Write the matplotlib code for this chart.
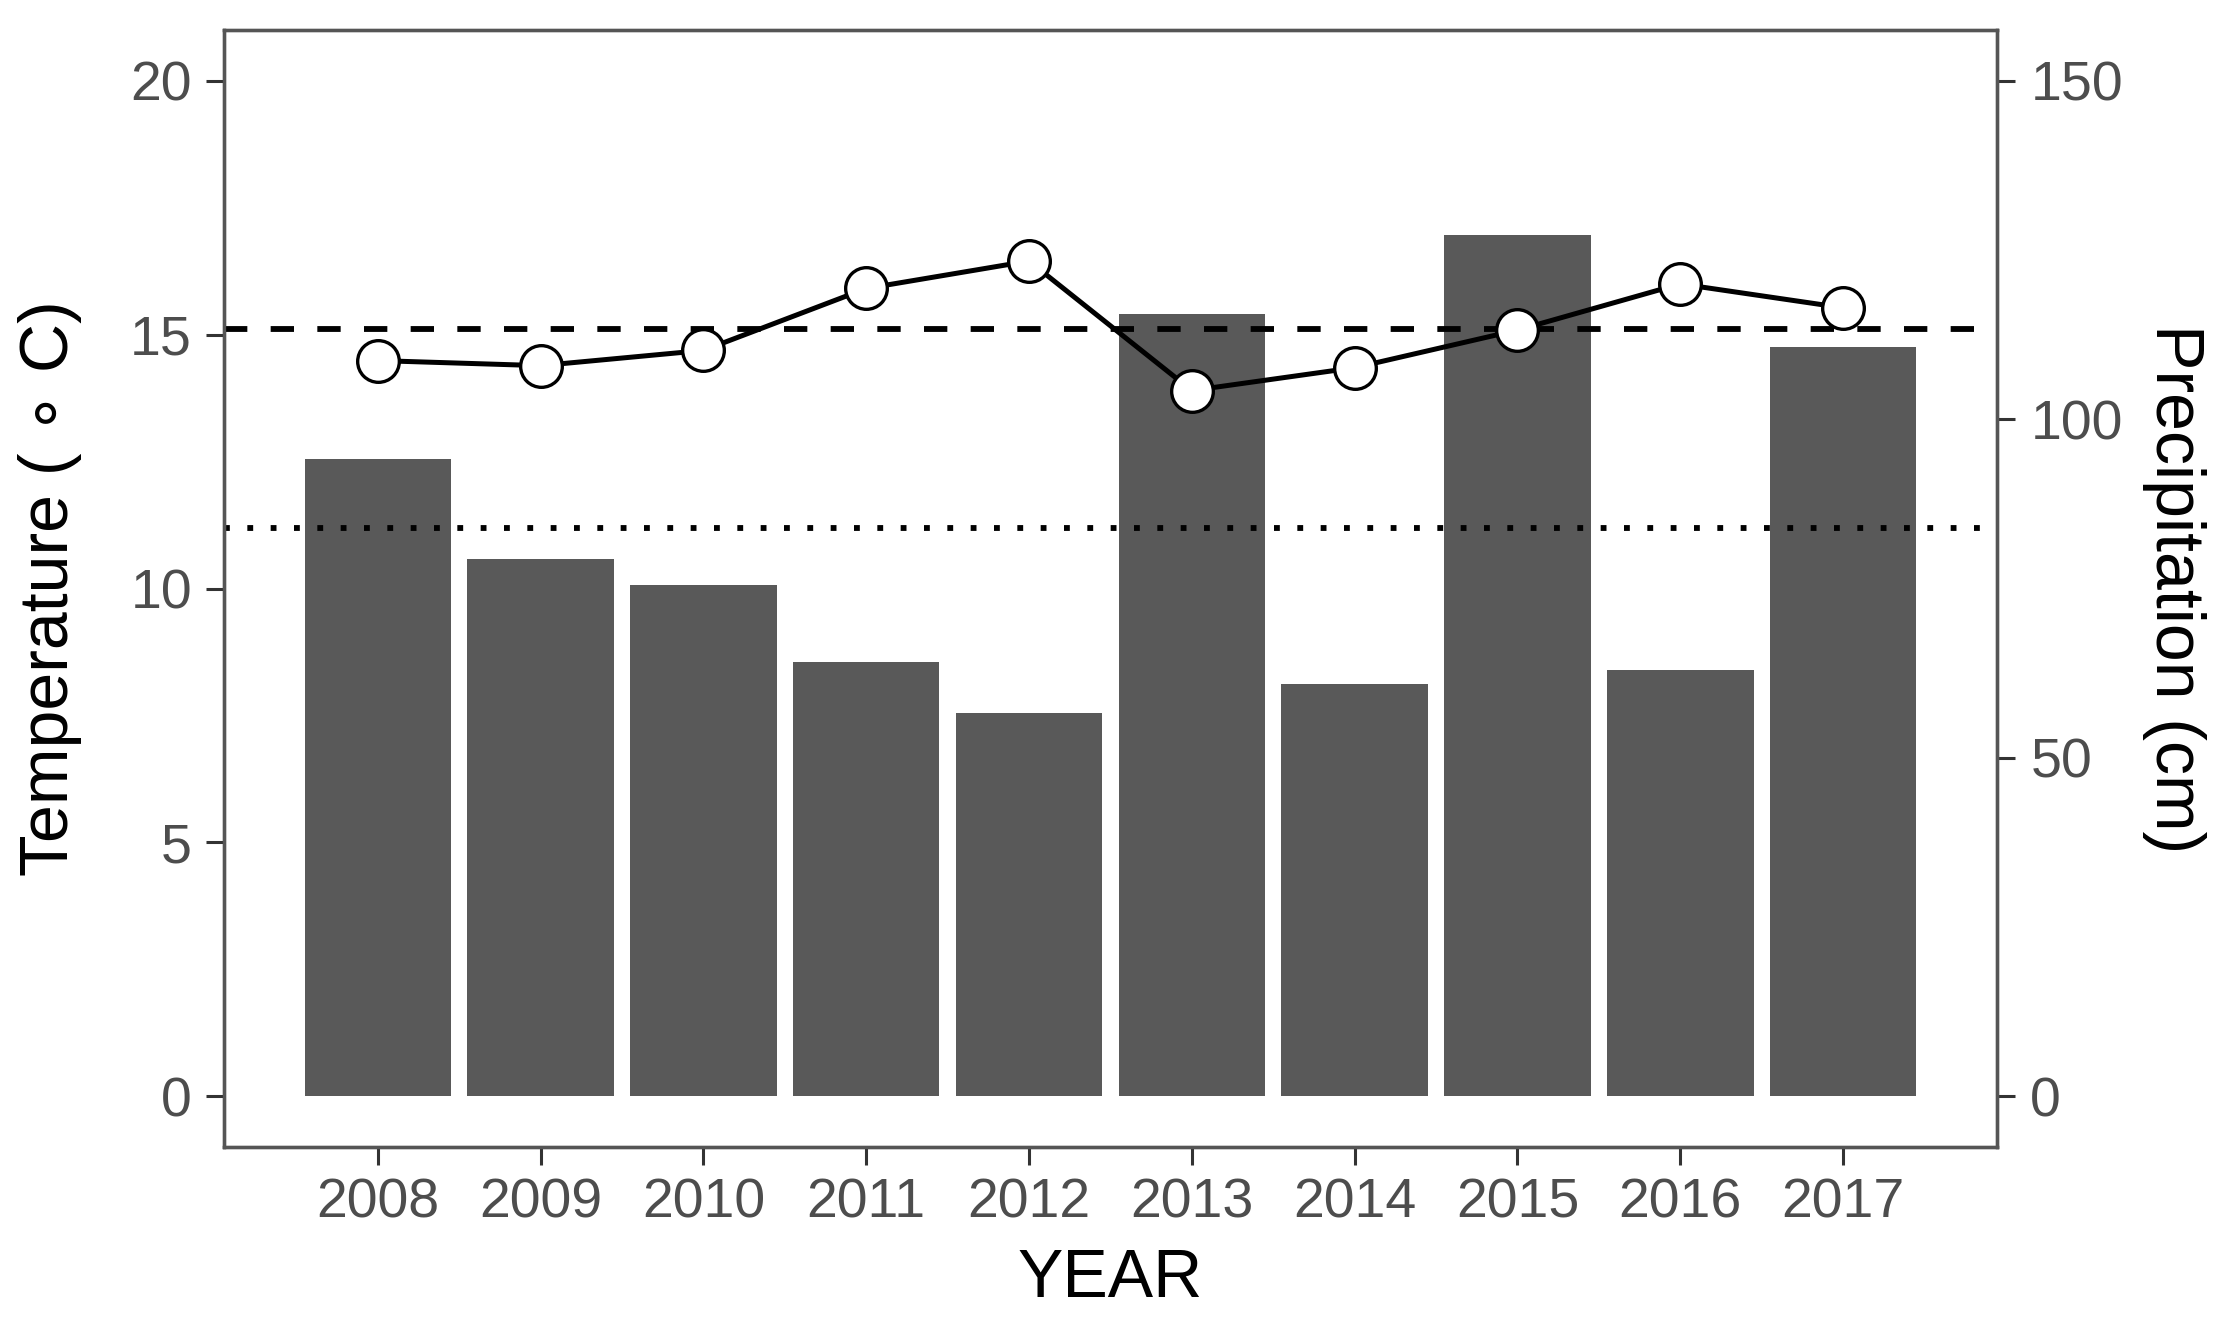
import numpy as np
import matplotlib
matplotlib.use("Agg")
from matplotlib import pyplot as plt

# Values
years = [2008, 2009, 2010, 2011, 2012, 2013, 2014, 2015, 2016, 2017]
temp_c = [14.49, 14.39, 14.69, 15.91, 16.45, 13.90, 14.35, 15.09, 16.00, 15.53]
precip_cm = [94.1, 79.3, 75.5, 64.1, 56.6, 115.5, 60.9, 127.2, 63.0, 110.7]
mean_temp_c = 15.12
mean_precip_cm = 83.9

temp_ticks = [0, 5, 10, 15, 20]
precip_ticks = [0, 50, 100, 150]
cm_per_degree = 7.5     # right axis = left axis * 7.5

plt.rcParams['font.family'] = ['Liberation Sans', 'DejaVu Sans']

TICK_COL = "#4D4D4D"
SPINE_COL = "#555555"


def style_axis(ax):
    for s in ax.spines.values():
        s.set_color(SPINE_COL)
        s.set_linewidth(2.4)
    ax.tick_params(axis="both", length=13, width=2.2, color="#333333",
                   labelcolor=TICK_COL, labelsize=40)


def main():
    fig = plt.figure(figsize=(22.28, 13.29), dpi=100)
    ax = fig.add_axes([0.1005, 0.1369, 0.7958, 0.8405])
    ax2 = ax.twinx()

    # temperature axis drawn on top of the precipitation bars
    ax.set_zorder(ax2.get_zorder() + 1)
    ax.patch.set_visible(False)

    # Precipitation bars (right axis)
    ax2.bar(years, precip_cm, width=0.9, color="#595959", zorder=1)
    ln = ax2.axhline(mean_precip_cm, color="black", lw=4.2, zorder=2)
    ln.set_linestyle((0, (1, 3)))

    # Temperature (left axis)
    dl = ax.axhline(mean_temp_c, color="black", lw=4.2, zorder=2)
    dl.set_linestyle((0, (4, 4)))
    ax.plot(years, temp_c, color="black", lw=3.6, marker="o",
            markersize=30, markerfacecolor="white", markeredgecolor="black",
            markeredgewidth=2.4, zorder=3)

    ax.set_xlim(2007.055, 2017.945)
    ax.set_ylim(-1, 21)
    ax2.set_ylim(-1 * cm_per_degree, 21 * cm_per_degree)

    ax.set_xticks(years)
    ax.set_xticklabels([str(y) for y in years])
    ax.set_yticks(temp_ticks)
    ax2.set_yticks(precip_ticks)

    style_axis(ax)
    style_axis(ax2)
    ax.tick_params(axis="x", pad=9)
    ax.tick_params(axis="y", pad=10)
    ax2.tick_params(axis="y", pad=11)

    ax.set_xlabel("YEAR", fontsize=49, color="black", va="center")
    ax.xaxis.set_label_coords(0.5, -0.118)
    ax.set_ylabel("Temperature ( \u2218 C)", fontsize=49, color="black", va="center")
    ax.yaxis.set_label_coords(-0.098, 0.5)
    ax2.set_ylabel("Precipitation (cm)", fontsize=49, color="black",
                   rotation=270, va="center")
    ax2.yaxis.set_label_coords(1.0998, 0.5)

    plt.savefig("out.png", dpi=100)
    plt.close('all')


if __name__ == "__main__":
    main()
